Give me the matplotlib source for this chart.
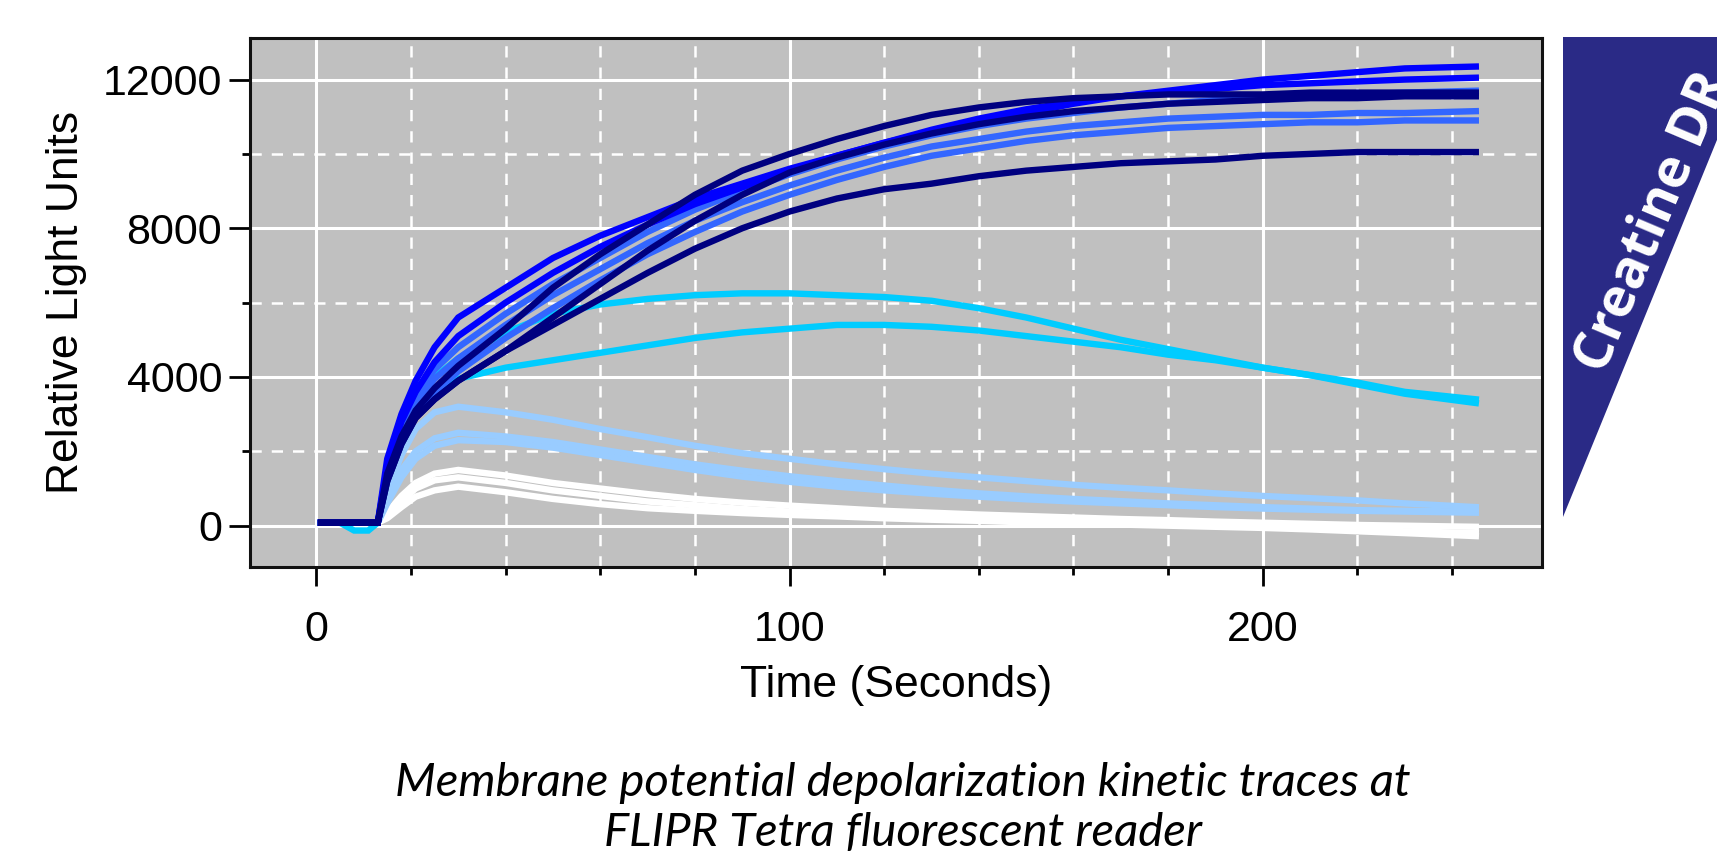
import matplotlib.pyplot as plt
from matplotlib.patches import Polygon
from matplotlib.ticker import MultipleLocator

# time points (s)
t = [1, 5, 8, 11, 13, 15, 18, 21, 25, 30, 40, 50, 60, 70, 80, 90, 100,
     110, 120, 130, 140, 150, 160, 170, 180, 190, 200, 210, 220, 230, 245]

# white traces (lowest creatine)
w1 = [80, 80, 80, 80, 80, 350, 800, 1150, 1400, 1500, 1350, 1150, 1000, 850, 720, 620, 540,
      470, 400, 350, 300, 260, 220, 180, 150, 110, 80, 50, 20, 0, -30]
w2 = [80, 80, 80, 80, 80, 250, 650, 1000, 1220, 1300, 1150, 950, 800, 650, 550, 450, 380,
      320, 270, 220, 180, 140, 100, 70, 40, 0, -30, -70, -100, -150, -200]
w3 = [80, 80, 80, 80, 80, 200, 500, 780, 950, 1050, 900, 720, 580, 470, 400, 340, 290,
      250, 200, 160, 130, 90, 60, 30, 0, -30, -60, -100, -150, -200, -280]

# light blue traces
lb1 = [80, 80, 80, 80, 80, 900, 1900, 2600, 3050, 3200, 3050, 2850, 2600, 2380, 2150, 1950, 1800,
       1650, 1520, 1400, 1300, 1200, 1100, 1020, 950, 870, 800, 740, 680, 600, 500]
lb2 = [80, 80, 80, 80, 80, 700, 1500, 2000, 2350, 2500, 2400, 2250, 2050, 1850, 1650, 1480, 1330,
       1200, 1080, 970, 870, 790, 720, 660, 600, 550, 500, 460, 420, 400, 380]
lb3 = [80, 80, 80, 80, 80, 600, 1300, 1800, 2150, 2300, 2250, 2100, 1900, 1700, 1500, 1320, 1180,
       1050, 950, 860, 780, 710, 650, 600, 550, 500, 460, 430, 400, 380, 350]

# cyan traces
c1 = [80, 80, -130, -130, 80, 1500, 2700, 3400, 4000, 4500, 5200, 5700, 5950, 6100, 6200, 6250, 6250,
      6200, 6150, 6050, 5850, 5600, 5300, 5000, 4750, 4500, 4250, 4050, 3850, 3600, 3400]
c2 = [80, 80, 80, 80, 80, 1300, 2400, 3100, 3600, 3950, 4250, 4450, 4650, 4850, 5050, 5200, 5300,
      5400, 5400, 5350, 5250, 5100, 4950, 4800, 4600, 4450, 4250, 4050, 3800, 3550, 3300]

# royal blue traces
r1 = [80, 80, 80, 80, 80, 1500, 2700, 3500, 4200, 4800, 5700, 6500, 7200, 7900, 8500, 9000, 9450,
      9850, 10200, 10500, 10750, 10950, 11100, 11250, 11350, 11450, 11500, 11550, 11600, 11650, 11700]
r2 = [80, 80, 80, 80, 80, 1400, 2500, 3300, 3950, 4500, 5400, 6200, 6900, 7600, 8200, 8700, 9150,
      9550, 9900, 10200, 10400, 10600, 10750, 10850, 10950, 11000, 11050, 11050, 11100, 11100, 11150]
r3 = [80, 80, 80, 80, 80, 1300, 2300, 3000, 3600, 4150, 5050, 5850, 6600, 7300, 7900, 8450, 8900,
      9300, 9650, 9950, 10150, 10350, 10500, 10600, 10700, 10750, 10800, 10850, 10850, 10900, 10900]

# pure blue traces
b1 = [80, 80, 80, 80, 80, 1800, 3000, 3900, 4800, 5600, 6400, 7200, 7800, 8300, 8800, 9200, 9600,
      9950, 10300, 10600, 10850, 11100, 11350, 11550, 11700, 11850, 12000, 12100, 12200, 12300, 12350]
b2 = [80, 80, 80, 80, 80, 1600, 2800, 3600, 4400, 5100, 6000, 6800, 7500, 8100, 8650, 9100, 9550,
      9950, 10300, 10650, 10950, 11200, 11400, 11550, 11650, 11750, 11850, 11900, 11950, 12000, 12050]

# navy traces (highest creatine)
n1 = [80, 80, 80, 80, 80, 1400, 2400, 3100, 3700, 4300, 5300, 6400, 7300, 8100, 8900, 9550, 10000,
      10400, 10750, 11050, 11250, 11400, 11500, 11550, 11600, 11600, 11600, 11650, 11650, 11650, 11650]
n2 = [80, 80, 80, 80, 80, 1200, 2200, 2900, 3400, 3900, 4700, 5600, 6500, 7400, 8200, 8900, 9500,
      9900, 10250, 10550, 10800, 11000, 11150, 11250, 11350, 11400, 11450, 11500, 11500, 11550, 11550]
n3 = [80, 80, 80, 80, 80, 1200, 2200, 2900, 3400, 3900, 4700, 5400, 6100, 6800, 7450, 8000, 8450,
      8800, 9050, 9200, 9400, 9550, 9650, 9750, 9800, 9850, 9950, 10000, 10050, 10050, 10050]

groups = [
    ("#ffffff", [w1, w2, w3]),
    ("#99ccff", [lb1, lb2, lb3]),
    ("#00ccff", [c1, c2]),
    ("#3366ff", [r1, r2, r3]),
    ("#0000ff", [b1, b2]),
    ("#000080", [n1, n2, n3]),
]

caption = "Membrane potential depolarization kinetic traces at\nFLIPR Tetra fluorescent reader"

fig = plt.figure(figsize=(17.17, 8.64), dpi=100)
ax = fig.add_axes([0.1456, 0.3438, 0.7525, 0.6123])
ax.set_facecolor("#c0c0c0")

for color, traces in groups:
    for y in traces:
        ax.plot(t, y, color=color, lw=4.6, solid_joinstyle="miter")

ax.set_xlim(-14, 259)
ax.set_ylim(-1110, 13120)
ax.set_xticks([0, 100, 200])
ax.set_yticks([0, 4000, 8000, 12000])
ax.xaxis.set_minor_locator(MultipleLocator(20))
ax.yaxis.set_minor_locator(MultipleLocator(2000))

ax.set_axisbelow(True)
ax.grid(which="major", color="white", lw=2.2, ls="-")
ax.grid(which="minor", color="white", lw=1.8, ls=(0, (4.5, 4)))

for s in ax.spines.values():
    s.set_linewidth(2.2)
    s.set_color("#111111")

ax.tick_params(axis="x", which="major", length=14, width=2, labelsize=31, pad=17)
ax.tick_params(axis="y", which="major", length=15, width=2, labelsize=31, pad=5)
ax.tick_params(which="minor", length=6, width=2)

ax.set_xlabel("Time (Seconds)", fontsize=32, fontfamily="Liberation Sans")
ax.set_ylabel("Relative Light Units", fontsize=32, fontfamily="Liberation Sans")
ax.xaxis.set_label_coords(0.5, -0.185)
ax.yaxis.set_label_coords(-0.126, 0.5)
for lab in ax.get_xticklabels() + ax.get_yticklabels():
    lab.set_fontfamily("Liberation Sans")

# corner banner
W, H = 1717.0, 864.0
tri = Polygon([(1563 / W, 1 - 37 / H), (1759 / W, 1 - 37 / H), (1563 / W, 1 - 517 / H)],
              closed=True, transform=fig.transFigure, facecolor="#2a2a86", edgecolor="none")
fig.patches.append(tri)
fig.text(1653 / W, 1 - 222 / H, "Creatine DR", rotation=67, ha="center", va="center",
         rotation_mode="anchor", color="white", fontsize=39, fontweight="bold",
         fontfamily="Open Sans")

fig.text(903 / W, 1 - 808 / H, caption, ha="center", va="center", fontsize=34,
         fontstyle="italic", fontfamily="Lato", linespacing=1.25)

fig.savefig("out.png", dpi=100)
